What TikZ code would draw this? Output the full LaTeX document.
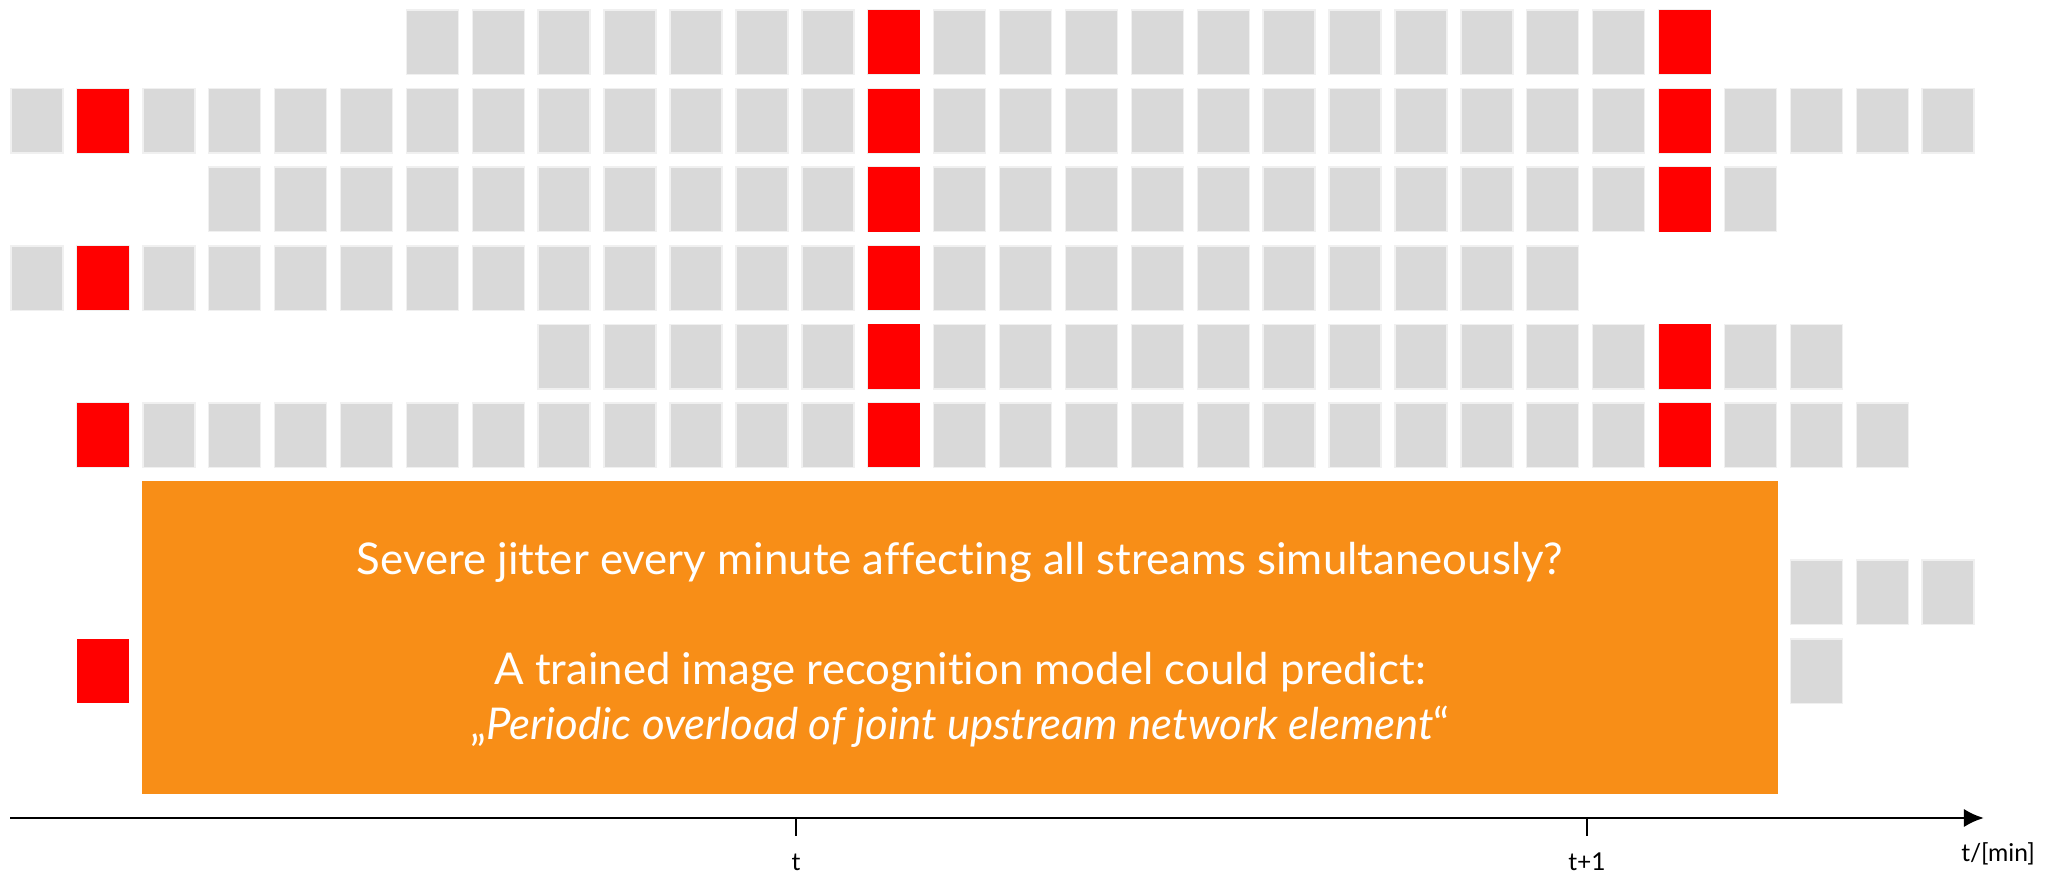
\documentclass[tikz,border=0pt]{standalone}
\usepackage{fontspec}
\setmainfont{Lato}[Ligatures=CommonOff]
\usepackage{xcolor}
\usepackage{tikz}
\usetikzlibrary{arrows.meta, positioning}
\definecolor{cellgray}{HTML}{D9D9D9}
\definecolor{peakred}{HTML}{FF0000}
\definecolor{noteorange}{RGB}{248,142,23}
\tikzstyle{arrow}  = [thick,-{Latex[length=5.7pt,width=5.2pt]}]
\tikzstyle{cell}   = [fill=cellgray,draw=white!94!black,line width=0.4pt]
\tikzstyle{peak}   = [fill=peakred,draw=none]
\tikzstyle{axlabel} = [font=\fontsize{7}{8}\selectfont,inner sep=0pt]
\tikzset{every node/.style={align=center}}

\begin{document}
\begin{tikzpicture}[x=0.01cm, y=-0.01cm]
  \useasboundingbox (0,0) rectangle (2056,873);
  % Streams (row/first cell/last cell), cell pitch 65.9, row pitch 78.6
  \foreach \r/\a/\b in {0/6/25, 1/0/29, 2/3/26, 3/0/23, 4/8/27, 5/1/28, 7/27/29, 8/27/27}
    \foreach \k in {\a,...,\b}
      \filldraw[cell] (11+65.9*\k,10+78.6*\r) rectangle ++(52,64.5);
  % Jitter peaks (row/cell)
  \foreach \r/\k in {0/13,0/25, 1/1,1/13,1/25, 2/13,2/25, 3/1,3/13, 4/13,4/25, 5/1,5/13,5/25, 8/1}
      \fill[peak] (11+65.9*\k,10+78.6*\r) rectangle ++(52,64.5);
  % Note
  \fill[noteorange] (142,481) rectangle (1778,794);
  \node[text=white,inner sep=0pt,font=\fontsize{12.45}{15.6}\selectfont] (note) at (960,645)
       {Severe jitter every minute affecting all streams simultaneously?\\[15.6pt]
        A trained image recognition model could predict:\\
        „\textit{Periodic overload of joint upstream network element}“};
  % Axis
  \coordinate (axstart) at (10,818);
  \coordinate (axend) at (1984,818);
  \draw[arrow] (axstart) -- (axend);
  \foreach \x/\nm in {796/tnow, 1587/tnext}
      \draw[thick] (\x,818) coordinate (\nm) -- ++(0,18);
  \node[axlabel] (tnowlabel) at (796,862) {t};
  \node[axlabel] (tnextlabel) at (1587,862) {t+1};
  \node[axlabel] (unitlabel) at (1998,854) {t/[min]};
\end{tikzpicture}
\end{document}
